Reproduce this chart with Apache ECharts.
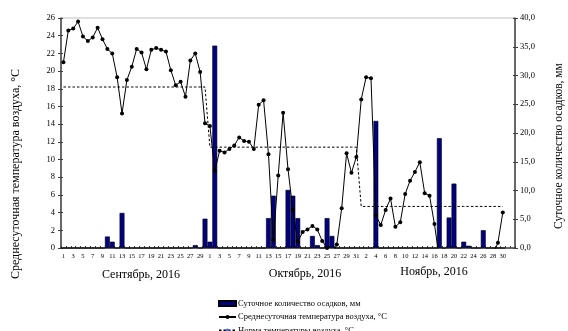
<!DOCTYPE html>
<html>
<head>
<meta charset="utf-8">
<script src="https://cdn.jsdelivr.net/npm/echarts@6/dist/echarts.min.js"></script>
<style>
  html, body { margin: 0; padding: 0; background: #fff; }
  #chart { width: 568px; height: 331px; }
</style>
</head>
<body>
<div id="chart"></div>
<script>
// Day labels
const daysSep = ["1","2","3","4","5","6","7","8","9","10","11","12","13","14","15","16","17","18","19","20","21","22","23","24","25","26","27","28","29","30"];
const daysOct = ["1","2","3","4","5","6","7","8","9","10","11","12","13","14","15","16","17","18","19","20","21","22","23","24","25","26","27","28","29","30","31"];
const daysNov = ["1","2","3","4","5","6","7","8","9","10","11","12","13","14","15","16","17","18","19","20","21","22","23","24","25","26","27","28","29","30"];
const padDays = ["", ""];
const monthLabels = ["Сентябрь, 2016", "Октябрь, 2016", "Ноябрь, 2016"];

// Daily precipitation, mm
const precipSep = [0,0,0,0,0,0,0,0,0,2.0,1.1,0,6.1,0,0,0,0,0,0,0,0,0,0,0,0,0,0,0.5,0,5.1];
const precipOct = [1.1,35.2,0,0,0,0,0,0,0,0,0,0,5.2,9.1,0,0,10.1,9.1,5.2,0,0,2.1,0.5,0,5.2,2.1,0,0,0,0,0];
const precipNov = [0,0,0,22.1,0,0,0,0,0,0,0,0,0,0,0,0,19.1,0,5.3,11.2,0,1.1,0.4,0,0,3.1,0,0,0,0];

// Mean daily air temperature, °C
const tempSep = [21.0,24.6,24.8,25.6,23.9,23.4,23.8,24.9,23.6,22.5,22.0,19.3,15.2,19.0,20.5,22.5,22.1,20.2,22.4,22.6,22.4,22.2,20.1,18.4,18.8,17.1,21.2,22.0,19.9,14.1];
const tempOct = [13.8,8.7,11.0,10.8,11.2,11.6,12.5,12.1,12.0,11.2,16.2,16.7,10.6,0.9,8.2,15.3,8.9,4.3,0.7,1.8,2.1,2.5,2.1,0.8,0.0,-0.8,0.4,4.5,10.7,8.5,10.3];
const tempNov = [16.8,19.3,19.2,3.7,2.6,4.3,5.6,2.4,2.9,6.1,7.6,8.6,9.7,6.2,5.9,2.7,-1.2,null,null,null,null,null,null,null,null,null,null,-0.8,0.6,4.0];

// Monthly temperature norm, °C
const normSep = 18.2, normOct = 11.4, normNov = 4.7;

const leftTicks = { min: 0, max: 26, interval: 2 };
const rightTicks = { min: 0, max: 40, interval: 5 };

const seriesNames = ["Суточное количество осадков, мм", "Среднесуточная температура воздуха, °С", "Норма температуры воздуха, °С"];
const leftAxisTitle = "Среднесуточная температура воздуха, °С";
const rightAxisTitle = "Суточное количество осадков, мм";

const categories = daysSep.concat(daysOct, daysNov, padDays);
const precip = precipSep.concat(precipOct, precipNov);
const temp = tempSep.concat(tempOct, tempNov);
const norm = daysSep.map(() => normSep).concat(daysOct.map(() => normOct), daysNov.map(() => normNov));

const FONT = "'Liberation Serif', 'Times New Roman', serif";
const axisCol = '#404040';

function legendRow(name, top, icon) {
  const item = icon ? { name: name, icon: icon } : { name: name };
  return {
    orient: 'vertical', left: 218, top: top, padding: 0,
    itemWidth: 17, itemHeight: 5, itemGap: 0,
    textStyle: { fontSize: 8.5, color: '#000', fontFamily: FONT, padding: [0, 0, 0, -3] },
    data: [item]
  };
}

function valueAxis(pos, ticks, main) {
  return {
    type: 'value', position: pos,
    min: ticks.min, max: ticks.max, interval: ticks.interval,
    axisLine: { show: main, lineStyle: { color: axisCol, width: 1.5 } },
    axisTick: { show: true, inside: !main, length: main ? 3 : 2, lineStyle: { color: axisCol } },
    axisLabel: main ? { fontSize: 8.5, color: '#000', margin: pos === 'left' ? 6 : 5, fontFamily: FONT,
      formatter: pos === 'left' ? (v => String(v)) : (v => v.toFixed(1).replace('.', ',')) } : { show: false },
    splitLine: { show: false }
  };
}

const chart = echarts.init(document.getElementById('chart'), null, { renderer: 'canvas' });
chart.setOption({
  animation: false,
  textStyle: { fontFamily: FONT, color: '#000' },
  grid: { left: 61, right: 53, top: 18, bottom: 83, show: true, borderColor: '#c0c0c0', borderWidth: 1 },
  xAxis: [
    {
      type: 'category',
      data: categories,
      boundaryGap: true,
      axisLine: { lineStyle: { color: axisCol, width: 1.5 } },
      axisTick: { interval: 0, length: 3, lineStyle: { color: axisCol, width: 1 } },
      axisLabel: { interval: 1, fontSize: 6.5, color: '#000', margin: 5, fontFamily: FONT },
      splitLine: { show: false }
    },
    {
      type: 'category',
      data: categories,
      position: 'bottom',
      boundaryGap: true,
      axisLine: { show: false },
      axisTick: { show: true, inside: true, interval: 0, length: 2, lineStyle: { color: axisCol, width: 1 } },
      axisLabel: { show: false },
      splitLine: { show: false }
    }
  ],
  yAxis: [
    valueAxis('left', leftTicks, true),
    valueAxis('right', rightTicks, true),
    valueAxis('left', leftTicks, false),
    valueAxis('right', rightTicks, false)
  ],
  legend: [
    legendRow(seriesNames[0], 299, 'rect'),
    legendRow(seriesNames[1], 312.5),
    legendRow(seriesNames[2], 326)
  ],
  series: [
    {
      name: seriesNames[0], type: 'bar', xAxisIndex: 0, yAxisIndex: 1,
      data: precip, barWidth: '100%', barGap: '0%', barCategoryGap: '0%',
      itemStyle: { color: '#000080', borderColor: '#000', borderWidth: 0.6 },
      z: 2
    },
    {
      name: seriesNames[2], type: 'line', xAxisIndex: 0, yAxisIndex: 0,
      data: norm, symbol: 'none',
      lineStyle: { color: '#000', width: 1, type: [2.5, 2] },
      z: 3
    },
    {
      name: seriesNames[1], type: 'line', xAxisIndex: 0, yAxisIndex: 0,
      data: temp, symbol: 'circle', symbolSize: 4, showAllSymbol: true, clip: true,
      itemStyle: { color: '#000' },
      lineStyle: { color: '#000', width: 1 },
      connectNulls: false,
      z: 4
    }
  ],
  graphic: [
    { type: 'text', x: 16, y: 174, rotation: Math.PI / 2,
      style: { text: leftAxisTitle, fontSize: 12, fontFamily: FONT, fill: '#000', align: 'center', verticalAlign: 'middle' } },
    { type: 'text', x: 559, y: 146, rotation: Math.PI / 2,
      style: { text: rightAxisTitle, fontSize: 11.5, fontFamily: FONT, fill: '#000', align: 'center', verticalAlign: 'middle' } },
    { type: 'text', x: 141, y: 275,
      style: { text: monthLabels[0], fontSize: 12, fontFamily: FONT, fill: '#000', align: 'center', verticalAlign: 'middle' } },
    { type: 'text', x: 305, y: 274,
      style: { text: monthLabels[1], fontSize: 12, fontFamily: FONT, fill: '#000', align: 'center', verticalAlign: 'middle' } },
    { type: 'text', x: 434, y: 272,
      style: { text: monthLabels[2], fontSize: 12, fontFamily: FONT, fill: '#000', align: 'center', verticalAlign: 'middle' } }
  ]
});
</script>
</body>
</html>
